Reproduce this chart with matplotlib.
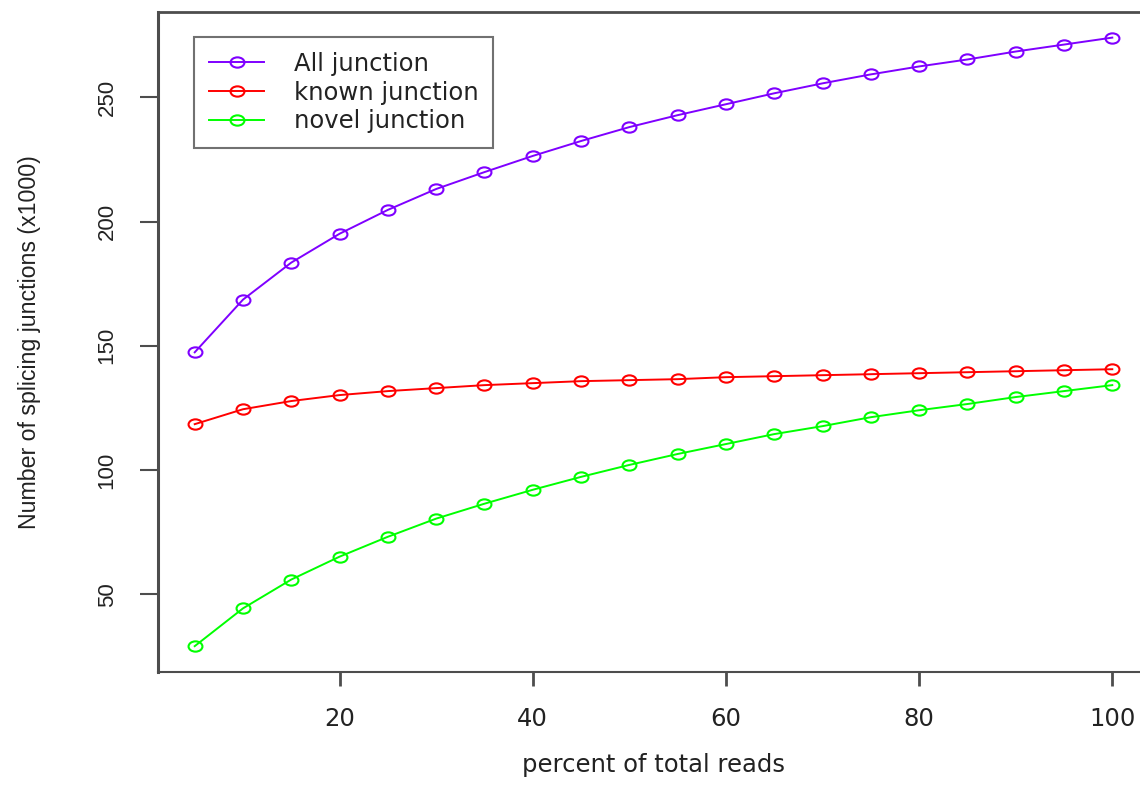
import numpy as np
import matplotlib
matplotlib.use("Agg")
import matplotlib.pyplot as plt
from matplotlib.path import Path

# percent of total reads sampled
percent = [5, 10, 15, 20, 25, 30, 35, 40, 45, 50,
           55, 60, 65, 70, 75, 80, 85, 90, 95, 100]

# splicing junction counts (x1000)
all_junction = [147.4, 168.6, 183.5, 195.1, 204.7, 213.1, 219.9, 226.4, 232.4, 238.0,
                242.8, 247.2, 251.6, 255.6, 259.2, 262.4, 265.2, 268.4, 271.2, 274.0]
known_junction = [118.5, 124.5, 127.8, 130.2, 131.8, 133.0, 134.2, 135.0, 135.8, 136.2,
                  136.6, 137.4, 137.8, 138.2, 138.6, 139.0, 139.4, 139.8, 140.2, 140.6]
novel_junction = [29.2, 44.4, 56.0, 65.2, 73.2, 80.5, 86.5, 92.1, 97.3, 102.1,
                  106.5, 110.5, 114.5, 117.7, 121.3, 124.1, 126.6, 129.4, 131.8, 134.2]

labels = ["All junction", "known junction", "novel junction"]
colors = ["#7f00ff", "#ff0000", "#00ff00"]
xticks = [20, 40, 60, 80, 100]
yticks = [50, 100, 150, 200, 250]

# slightly wide circle, the original picture is stretched sideways
ellipse = Path.unit_circle().transformed(matplotlib.transforms.Affine2D().scale(1.35, 1.0))

fig = plt.figure(figsize=(11.4, 7.85), dpi=100)
W, H = 1140, 785
ax = fig.add_axes([158 / W, (H - 672) / H, 991 / W, 660 / H])

for ys, lab, c in zip([all_junction, known_junction, novel_junction], labels, colors):
    ax.plot(percent, ys, color=c, lw=1.4, marker=ellipse, ms=10,
            mfc="none", mec=c, mew=1.5, label=lab)

ax.set_xlim(1.2, 103.8)
ax.set_ylim(18.8, 284.3)

axcol = "#4d4d4d"
txtcol = "#222222"
for s in ax.spines.values():
    s.set_color(axcol)
ax.spines["left"].set_linewidth(2.2)
ax.spines["bottom"].set_linewidth(1.5)
ax.spines["top"].set_linewidth(2.0)
ax.spines["right"].set_linewidth(1.5)

ax.set_xticks(xticks)
ax.set_xticklabels([str(t) for t in xticks], fontsize=17.5, color=txtcol,
                   family="DejaVu Sans")
ax.set_yticks(yticks)
ax.set_yticklabels([str(t) for t in yticks], fontsize=16, color=txtcol,
                   family="Liberation Sans", rotation=90, va="center")
ax.tick_params(axis="x", length=10, width=2, color=axcol, pad=15)
ax.tick_params(axis="y", length=13, width=1.5, color=axcol, pad=16)

ax.set_xlabel("percent of total reads", fontsize=17.5, color=txtcol,
              family="DejaVu Sans", labelpad=16)
ax.set_ylabel("Number of splicing junctions (x1000)", fontsize=16.7, color=txtcol,
              family="Liberation Sans", labelpad=40)

leg = ax.legend(loc="upper left", bbox_to_anchor=(0.0363, 0.962), borderaxespad=0,
                frameon=True, fancybox=False, handlelength=2.3,
                handletextpad=1.2, labelspacing=0.2, borderpad=0.6,
                prop={"family": "DejaVu Sans", "size": 17.5})
leg.get_frame().set_edgecolor(axcol)
leg.get_frame().set_linewidth(1.5)
for t in leg.get_texts():
    t.set_color(txtcol)

fig.savefig("out.png", dpi=100)
